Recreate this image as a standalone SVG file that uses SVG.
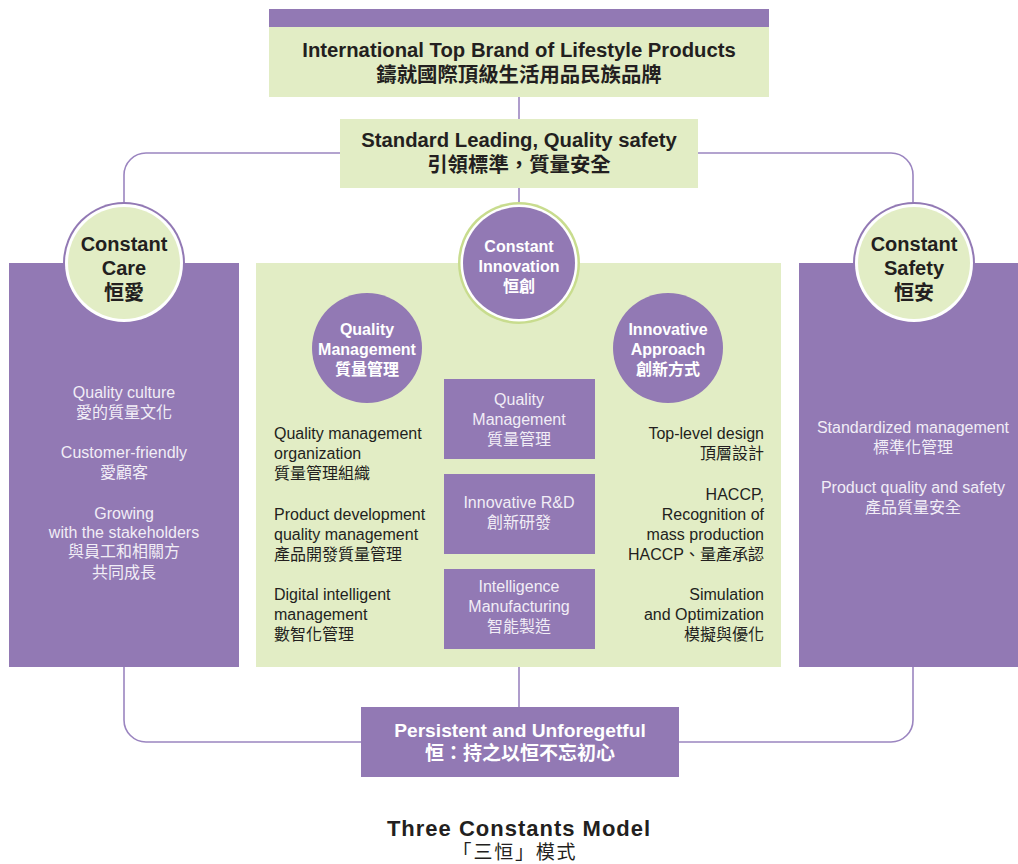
<svg xmlns="http://www.w3.org/2000/svg" width="1018" height="864" viewBox="0 0 1018 864">
<style>
.pu{fill:#9279b4}
.gr{fill:#e2edc5}
.wh{fill:#ffffff}
.t{font-family:"Liberation Sans","Noto Sans CJK TC",sans-serif;text-anchor:middle}
.b{font-weight:bold}
.dk{fill:#231f20}
.lt{fill:#f1edf6}
.s16{font-size:16px}
.l{text-anchor:start}
.r{text-anchor:end}
.conn{fill:none;stroke:#9b85c0;stroke-width:1.6}
</style>
<rect width="1018" height="864" fill="#ffffff"/>
<g id="connectors" class="conn">
<path d="M340,153 H146 A22,22 0 0 0 124,175 V205"/>
<path d="M698,153 H891 A22,22 0 0 1 913,175 V205"/>
<path d="M124,667 V720 A22,22 0 0 0 146,742 H361"/>
<path d="M913,667 V720 A22,22 0 0 1 891,742 H679"/>
<path d="M519,97 V119"/>
<path d="M519,188 V205"/>
<path d="M519,667 V707"/>
</g>
<g id="top-brand">
<rect class="pu" x="269" y="9" width="500" height="18"/>
<rect class="gr" x="269" y="27" width="500" height="70"/>
<text class="t b dk" x="519" y="57" font-size="20.3">International Top Brand of Lifestyle Products</text>
<text class="t b dk" x="519" y="82" font-size="20.4">鑄就國際頂級生活用品民族品牌</text>
</g>
<g id="standard-leading">
<rect class="gr" x="340" y="119" width="358" height="69"/>
<text class="t b dk" x="519" y="147" font-size="20.3">Standard Leading, Quality safety</text>
<text class="t b dk" x="519" y="172" font-size="20.4">引領標準，質量安全</text>
</g>
<g id="care-panel">
<rect class="pu" x="9" y="263" width="230" height="404"/>
<g class="t lt s16">
<text x="124" y="398">Quality culture</text>
<text x="124" y="418">愛的質量文化</text>
<text x="124" y="458">Customer-friendly</text>
<text x="124" y="478">愛顧客</text>
<text x="124" y="519">Growing</text>
<text x="124" y="538">with the stakeholders</text>
<text x="124" y="557">與員工和相關方</text>
<text x="124" y="578">共同成長</text>
</g>
</g>
<g id="innovation-panel">
<rect class="gr" x="256" y="263" width="525" height="404"/>
<g class="t l dk s16">
<text x="274" y="439">Quality management</text>
<text x="274" y="459">organization</text>
<text x="274" y="479">質量管理組織</text>
<text x="274" y="520">Product development</text>
<text x="274" y="540">quality management</text>
<text x="274" y="560">產品開發質量管理</text>
<text x="274" y="600">Digital intelligent</text>
<text x="274" y="620">management</text>
<text x="274" y="640">數智化管理</text>
</g>
<g class="t r dk s16">
<text x="764" y="439">Top-level design</text>
<text x="764" y="459">頂層設計</text>
<text x="764" y="500">HACCP,</text>
<text x="764" y="520">Recognition of</text>
<text x="764" y="540">mass production</text>
<text x="764" y="560">HACCP、量產承認</text>
<text x="764" y="600">Simulation</text>
<text x="764" y="620">and Optimization</text>
<text x="764" y="640">模擬與優化</text>
</g>
</g>
<g id="safety-panel">
<rect class="pu" x="799" y="263" width="219" height="404"/>
<g class="t lt s16">
<text x="913" y="433">Standardized management</text>
<text x="913" y="453">標準化管理</text>
<text x="913" y="493">Product quality and safety</text>
<text x="913" y="513">產品質量安全</text>
</g>
</g>
<g id="box-quality-management">
<rect class="pu" x="444" y="379" width="151" height="80"/>
<g class="t lt s16">
<text x="519" y="405">Quality</text>
<text x="519" y="425">Management</text>
<text x="519" y="445">質量管理</text>
</g>
</g>
<g id="box-innovative-rd">
<rect class="pu" x="444" y="474" width="151" height="80"/>
<g class="t lt s16">
<text x="519" y="508">Innovative R&amp;D</text>
<text x="519" y="528">創新研發</text>
</g>
</g>
<g id="box-intelligence-manufacturing">
<rect class="pu" x="444" y="569" width="151" height="80"/>
<g class="t lt s16">
<text x="519" y="592">Intelligence</text>
<text x="519" y="612">Manufacturing</text>
<text x="519" y="632">智能製造</text>
</g>
</g>
<g id="circle-care">
<circle class="pu" cx="124" cy="263" r="61"/>
<circle class="wh" cx="124" cy="263" r="59"/>
<circle class="gr" cx="124" cy="263" r="56"/>
<g class="t b dk" font-size="20">
<text x="124" y="251">Constant</text>
<text x="124" y="275">Care</text>
<text x="124" y="300">恒愛</text>
</g>
</g>
<g id="circle-innovation">
<circle cx="519" cy="263" r="61" fill="#c8dc8e"/>
<circle class="wh" cx="519" cy="263" r="58.5"/>
<circle class="pu" cx="519" cy="263" r="56"/>
<g class="t b wh" font-size="16">
<text x="519" y="252">Constant</text>
<text x="519" y="272">Innovation</text>
<text x="519" y="292">恒創</text>
</g>
</g>
<g id="circle-safety">
<circle class="pu" cx="914" cy="263" r="61"/>
<circle class="wh" cx="914" cy="263" r="59"/>
<circle class="gr" cx="914" cy="263" r="56"/>
<g class="t b dk" font-size="20">
<text x="914" y="251">Constant</text>
<text x="914" y="275">Safety</text>
<text x="914" y="300">恒安</text>
</g>
</g>
<g id="circle-quality-management">
<circle class="pu" cx="367" cy="348" r="55"/>
<g class="t b wh" font-size="16">
<text x="367" y="335">Quality</text>
<text x="367" y="355">Management</text>
<text x="367" y="375">質量管理</text>
</g>
</g>
<g id="circle-innovative-approach">
<circle class="pu" cx="668" cy="348" r="55"/>
<g class="t b wh" font-size="16">
<text x="668" y="335">Innovative</text>
<text x="668" y="355">Approach</text>
<text x="668" y="375">創新方式</text>
</g>
</g>
<g id="persistent">
<rect class="pu" x="361" y="707" width="318" height="70"/>
<text class="t b wh" x="520" y="737" font-size="19.2">Persistent and Unforegetful</text>
<text class="t b wh" x="520" y="760" font-size="19">恒：持之以恒不忘初心</text>
</g>
<g id="title">
<text class="t b dk" x="519" y="836" font-size="22" letter-spacing="1">Three Constants Model</text>
<text class="t dk" x="515" y="859" font-size="19" letter-spacing="1.8">「三恒」模式</text>
</g>
</svg>
